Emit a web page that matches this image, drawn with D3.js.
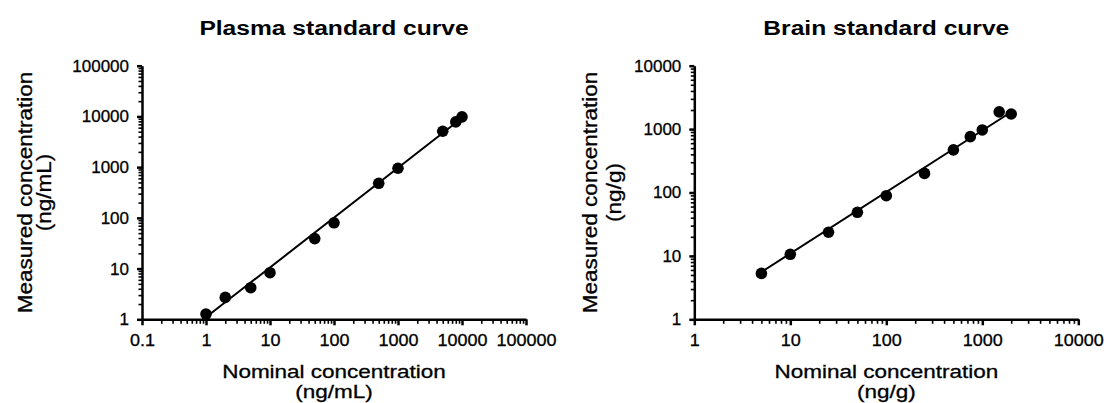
<!DOCTYPE html>
<html>
<head>
<meta charset="utf-8">
<script src="https://cdn.jsdelivr.net/npm/d3@7"></script>
<style>
  body { margin: 0; background: #fff; }
  text { font-family: "Liberation Sans", Arial, sans-serif; fill: #000; }
</style>
</head>
<body>
<div id="app"></div>
<script>
// plasma panel
const plasmaNominal = [1, 2, 5, 10, 50, 100, 500, 1000, 5000, 8000, 10000];
const plasmaMeasured = [1.27, 2.7, 4.2, 8.3, 39, 80, 480, 950, 5100, 7800, 9800];
const plasmaFitX = [0.91, 10000];
const plasmaFitY = [1, 9300];
const plasmaXTicks = [0.1, 1, 10, 100, 1000, 10000, 100000];
const plasmaXLabels = ["0.1", "1", "10", "100", "1000", "10000", "100000"];
const plasmaYTicks = [1, 10, 100, 1000, 10000, 100000];
const plasmaYLabels = ["1", "10", "100", "1000", "10000", "100000"];

// brain panel
const brainNominal = [5, 10, 25, 50, 100, 250, 500, 750, 1000, 1500, 2000];
const brainMeasured = [5.3, 10.6, 23.6, 48.7, 89, 200, 470, 760, 970, 1870, 1730];
const brainFitX = [5, 2000];
const brainFitY = [5.57, 1860];
const brainXTicks = [1, 10, 100, 1000, 10000];
const brainXLabels = ["1", "10", "100", "1000", "10000"];
const brainYTicks = [1, 10, 100, 1000, 10000];
const brainYLabels = ["1", "10", "100", "1000", "10000"];

const width = 1104, height = 403;

const svg = d3.select("#app").append("svg")
  .attr("width", width)
  .attr("height", height)
  .attr("viewBox", [0, 0, width, height]);

svg.append("rect").attr("width", width).attr("height", height).attr("fill", "#fff");

// text a little wider than the font, like the original export
function label(x, y, str, size, opts) {
  opts = opts || {};
  const rot = opts.rotate ? ` rotate(${opts.rotate})` : "";
  return svg.append("text")
    .attr("transform", `translate(${x},${y})${rot} scale(${opts.sx || 1},1)`)
    .attr("text-anchor", "middle")
    .attr("font-size", size)
    .attr("font-weight", opts.bold ? "bold" : "normal")
    .attr("stroke", opts.bold ? "none" : "#000")
    .attr("stroke-width", 0.3)
    .text(str);
}

function panel(cfg) {
  const x = d3.scaleLog().domain(cfg.xDomain).range(cfg.xRange);
  const y = d3.scaleLog().domain(cfg.yDomain).range([319.3, 65.7]);
  const midX = (cfg.xRange[0] + cfg.xRange[1]) / 2;

  const xMinor = x.ticks().filter(d => !cfg.xTicks.includes(d));
  const yMinor = y.ticks().filter(d => !cfg.yTicks.includes(d));

  // minor ticks
  svg.append("g")
    .attr("transform", `translate(0,${y.range()[0]})`)
    .call(d3.axisBottom(x).tickValues(xMinor).tickSize(4.5).tickSizeOuter(0).tickFormat(""))
    .call(g => g.select(".domain").remove())
    .call(g => g.selectAll(".tick line").attr("stroke-width", 1.6));
  svg.append("g")
    .attr("transform", `translate(${x.range()[0]},0)`)
    .call(d3.axisLeft(y).tickValues(yMinor).tickSize(3.5).tickSizeOuter(0).tickFormat(""))
    .call(g => g.select(".domain").remove())
    .call(g => g.selectAll(".tick line").attr("stroke-width", 1.6));

  // major ticks + labels
  svg.append("g")
    .attr("transform", `translate(0,${y.range()[0]})`)
    .call(d3.axisBottom(x).tickValues(cfg.xTicks).tickSize(6).tickSizeOuter(0)
      .tickPadding(9).tickFormat((d, i) => cfg.xLabels[i]))
    .call(g => g.select(".domain").attr("stroke-width", 2.5))
    .call(g => g.selectAll(".tick line").attr("stroke-width", 2.5))
    .call(g => g.selectAll(".tick text")
      .attr("font-size", 17)
      .attr("font-family", "Liberation Sans, Arial, sans-serif")
      .attr("fill", "#000")
      .attr("stroke", "#000")
      .attr("stroke-width", 0.3)
      .attr("transform", "scale(1.06,1)"));
  svg.append("g")
    .attr("transform", `translate(${x.range()[0]},0)`)
    .call(d3.axisLeft(y).tickValues(cfg.yTicks).tickSize(5).tickSizeOuter(0)
      .tickPadding(8).tickFormat((d, i) => cfg.yLabels[i]))
    .call(g => g.select(".domain").attr("stroke-width", 2.5))
    .call(g => g.selectAll(".tick line").attr("stroke-width", 2.5))
    .call(g => g.selectAll(".tick text")
      .attr("font-size", 17)
      .attr("font-family", "Liberation Sans, Arial, sans-serif")
      .attr("fill", "#000")
      .attr("stroke", "#000")
      .attr("stroke-width", 0.3));

  // fit line
  const fit = cfg.fitX.map((d, i) => [d, cfg.fitY[i]]);
  svg.append("path")
    .datum(fit)
    .attr("fill", "none")
    .attr("stroke", "#000")
    .attr("stroke-width", 2)
    .attr("d", d3.line().x(d => x(d[0])).y(d => y(d[1])));

  // points
  svg.append("g")
    .selectAll("circle")
    .data(cfg.nominal.map((d, i) => [d, cfg.measured[i]]))
    .join("circle")
    .attr("cx", d => x(d[0]))
    .attr("cy", d => y(d[1]))
    .attr("r", 5.8)
    .attr("fill", "#000");

  // titles
  label(midX, 35, cfg.title, 20, { bold: true, sx: 1.23 });
  label(midX, 378, "Nominal concentration", 18.6, { sx: 1.21 });
  label(midX, 398, cfg.unit, 18.6, { sx: 1.21 });
  const my = (y.range()[0] + y.range()[1]) / 2;
  label(cfg.yTitleX, my, "Measured concentration", 20.5, { rotate: -90, sx: 1.1 });
  label(cfg.yTitleX + cfg.yTitleGap, my, cfg.unit, 20.5, { rotate: -90, sx: 1.1 });
}

panel({
  title: "Plasma standard curve",
  unit: "(ng/mL)",
  xDomain: [0.1, 100000], xRange: [142, 526],
  yDomain: [1, 100000],
  xTicks: plasmaXTicks, xLabels: plasmaXLabels,
  yTicks: plasmaYTicks, yLabels: plasmaYLabels,
  nominal: plasmaNominal, measured: plasmaMeasured,
  fitX: plasmaFitX, fitY: plasmaFitY,
  yTitleX: 32, yTitleGap: 19
});

panel({
  title: "Brain standard curve",
  unit: "(ng/g)",
  xDomain: [1, 10000], xRange: [694.3, 1078.3],
  yDomain: [1, 10000],
  xTicks: brainXTicks, xLabels: brainXLabels,
  yTicks: brainYTicks, yLabels: brainYLabels,
  nominal: brainNominal, measured: brainMeasured,
  fitX: brainFitX, fitY: brainFitY,
  yTitleX: 597, yTitleGap: 24
});
</script>
</body>
</html>
